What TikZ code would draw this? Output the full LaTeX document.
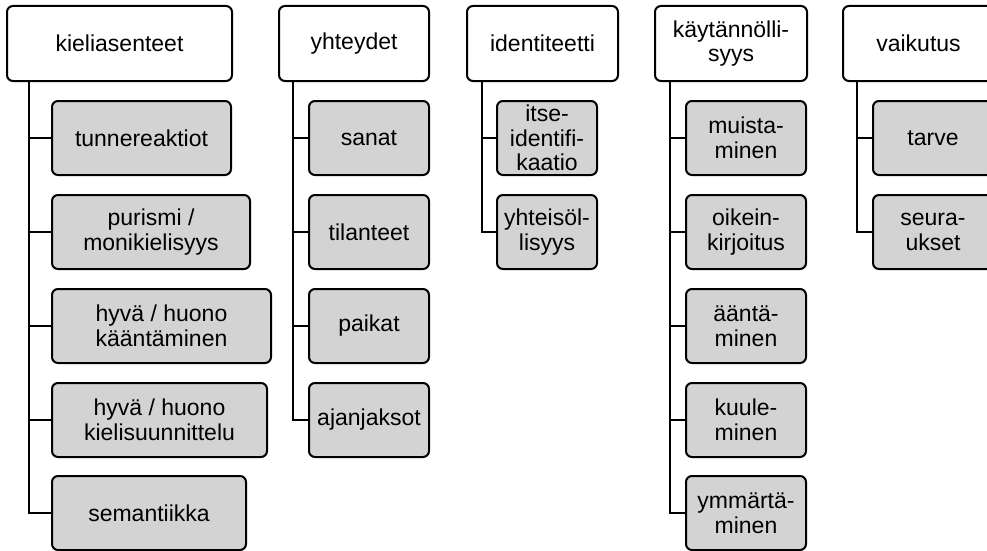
\documentclass[tikz,border=0pt]{standalone}
\usepackage{fontspec}
\setmainfont{Liberation Sans}
\definecolor{boxgray}{RGB}{211,211,211}

\begin{document}
\begin{tikzpicture}[x=1pt, y=-1pt,
    topbox/.style={draw, rectangle, rounded corners=6pt, line width=2pt, fill=white, anchor=north west,
        minimum height=75pt, inner sep=0pt, align=center, font=\fontsize{23}{24.5}\selectfont},
    subbox/.style={topbox, fill=boxgray, minimum height=74pt},
    conn/.style={line width=2.2pt}]
    \useasboundingbox (0,0) rectangle (987,551);
    \clip (0,0) rectangle (987,551);

    % Top level
    \node[topbox, minimum width=225pt] (kieliasenteet) at (6,5) {kieliasenteet};
    \node[topbox, minimum width=150pt] (yhteydet) at (278,5) {yhteydet};
    \node[topbox, minimum width=151pt] (identiteetti) at (466,5) {identiteetti};
    \node[topbox, minimum width=152pt] (kaytannollisyys) at (654,5) {käytännölli-\\syys};
    \node[topbox, minimum width=151pt] (vaikutus) at (842,5) {vaikutus};

    % Trunk start points
    \coordinate (k0) at (29,80);
    \coordinate (y0) at (293,80);
    \coordinate (i0) at (482,80);
    \coordinate (ka0) at (670,80);
    \coordinate (v0) at (857,80);

    % Children: kieliasenteet
    \node[subbox, minimum width=179pt] (tunnereaktiot) at (51,100) {tunnereaktiot};
    \node[subbox, minimum width=198pt] (purismi) at (51,194) {purismi /\\monikielisyys};
    \node[subbox, minimum width=219pt] (kaantaminen) at (51,288) {hyvä / huono\\kääntäminen};
    \node[subbox, minimum width=215pt] (suunnittelu) at (51,382) {hyvä / huono\\kielisuunnittelu};
    \node[subbox, minimum width=194pt] (semantiikka) at (51,475) {semantiikka};

    % Children: yhteydet
    \node[subbox, minimum width=120pt] (sanat) at (308,100) {sanat};
    \node[subbox, minimum width=120pt] (tilanteet) at (308,194) {tilanteet};
    \node[subbox, minimum width=120pt] (paikat) at (308,288) {paikat};
    \node[subbox, minimum width=120pt] (ajanjaksot) at (308,382) {ajanjaksot};

    % Children: identiteetti
    \node[subbox, minimum width=100pt] (itseid) at (496,100) {itse-\\identifi-\\kaatio};
    \node[subbox, minimum width=100pt] (yhteisollisyys) at (496,194) {yhteisöl-\\lisyys};

    % Children: kaytannollisyys
    \node[subbox, minimum width=120pt] (muistaminen) at (685,100) {muista-\\minen};
    \node[subbox, minimum width=120pt] (oikeinkirjoitus) at (685,194) {oikein-\\kirjoitus};
    \node[subbox, minimum width=120pt] (aantaminen) at (685,288) {ääntä-\\minen};
    \node[subbox, minimum width=120pt] (kuuleminen) at (685,382) {kuule-\\minen};
    \node[subbox, minimum width=120pt] (ymmartaminen) at (685,475) {ymmärtä-\\minen};

    % Children: vaikutus
    \node[subbox, minimum width=120pt] (tarve) at (872,100) {tarve};
    \node[subbox, minimum width=120pt] (seuraukset) at (872,194) {seura-\\ukset};

    % Connectors
    \foreach \c in {tunnereaktiot, purismi, kaantaminen, suunnittelu, semantiikka}
        \draw[conn] (k0) |- (\c.west);
    \foreach \c in {sanat, tilanteet, paikat, ajanjaksot}
        \draw[conn] (y0) |- (\c.west);
    \foreach \c in {itseid, yhteisollisyys}
        \draw[conn] (i0) |- (\c.west);
    \foreach \c in {muistaminen, oikeinkirjoitus, aantaminen, kuuleminen, ymmartaminen}
        \draw[conn] (ka0) |- (\c.west);
    \foreach \c in {tarve, seuraukset}
        \draw[conn] (v0) |- (\c.west);
\end{tikzpicture}
\end{document}
